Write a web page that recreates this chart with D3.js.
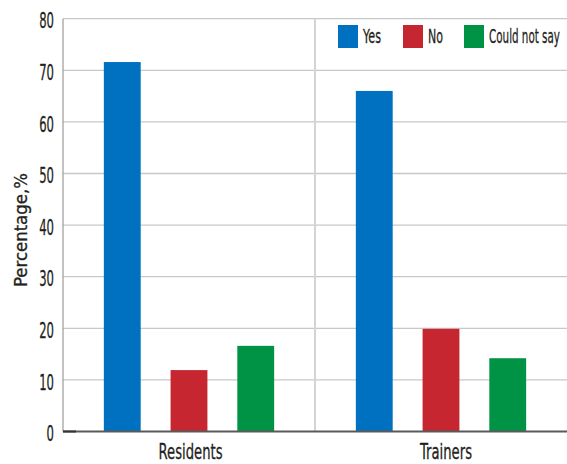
<!DOCTYPE html>
<html>
<head>
<meta charset="utf-8">
<script src="https://cdn.jsdelivr.net/npm/d3@7"></script>
<style>
  html, body { margin: 0; padding: 0; background: #fff; }
  svg { display: block; }
  text { font-family: "DejaVu Sans", "Liberation Sans", sans-serif; fill: #231f20; stroke: #231f20; stroke-width: 0.3px; }
</style>
</head>
<body>
<svg id="chart" width="567" height="464"></svg>
<script>
// Survey answers by group (percent)
const groups = ["Residents", "Trainers"];
const answers = ["Yes", "No", "Could not say"];
const yesValues = [71.6, 66.0];
const noValues = [11.9, 19.9];
const couldNotSayValues = [16.6, 14.2];
const yTicks = [0, 10, 20, 30, 40, 50, 60, 70, 80];
const colors = ["#0070c0", "#c5262f", "#009245"];

// condensed label widths (px) so the wide fallback font fits the narrow layout
const labelWidths = { "Residents": 64, "Trainers": 52, "Yes": 18, "No": 15, "Could not say": 71, "Percentage,%": 114 };
const digitWidth = 7.4;

function condense(sel, widthOf) {
  sel.attr("textLength", widthOf).attr("lengthAdjust", "spacingAndGlyphs");
}

const seriesValues = [yesValues, noValues, couldNotSayValues];
const rows = [];
groups.forEach((g, gi) => {
  answers.forEach((a, ai) => rows.push({ group: g, answer: a, value: seriesValues[ai][gi] }));
});

const svg = d3.select("#chart");
const margin = { left: 63, right: 0, top: 18.7, bottom: 32.5 };
const W = 567, H = 464;
const x0 = d3.scaleBand().domain(groups).range([margin.left, W - margin.right]).paddingInner(0).paddingOuter(0);
const x1 = d3.scaleBand().domain(answers).range([0, x0.bandwidth()]).paddingInner(0.448).paddingOuter(0.612);
const y = d3.scaleLinear().domain([0, 80]).range([H - margin.bottom, margin.top]);

// horizontal gridlines
svg.append("g")
  .selectAll("line")
  .data(yTicks.filter(t => t > 0))
  .join("line")
  .attr("x1", margin.left).attr("x2", W)
  .attr("y1", d => y(d)).attr("y2", d => y(d))
  .attr("stroke", "#c8c8c8").attr("stroke-width", 1.3);

// group divider
svg.append("line")
  .attr("x1", x0("Trainers")).attr("x2", x0("Trainers"))
  .attr("y1", y(80)).attr("y2", y(0))
  .attr("stroke", "#d4d4d4").attr("stroke-width", 2);

// left axis line
svg.append("line")
  .attr("x1", margin.left).attr("x2", margin.left)
  .attr("y1", y(80)).attr("y2", y(0))
  .attr("stroke", "#9a9a9a").attr("stroke-width", 1.2);

// bars
svg.append("g")
  .selectAll("rect")
  .data(rows)
  .join("rect")
  .attr("x", d => x0(d.group) + x1(d.answer))
  .attr("width", x1.bandwidth())
  .attr("y", d => y(d.value))
  .attr("height", d => y(0) - y(d.value))
  .attr("fill", d => colors[answers.indexOf(d.answer)]);

// baseline
svg.append("line")
  .attr("x1", margin.left).attr("x2", W)
  .attr("y1", y(0)).attr("y2", y(0))
  .attr("stroke", "#5a5a5a").attr("stroke-width", 2);
svg.append("line")
  .attr("x1", margin.left).attr("x2", margin.left + 13)
  .attr("y1", y(0)).attr("y2", y(0))
  .attr("stroke", "#333").attr("stroke-width", 2);

// y axis tick labels
const yAxis = d3.axisLeft(y).tickValues(yTicks).tickSize(0).tickPadding(9).tickFormat(d3.format("d"));
const gy = svg.append("g").attr("transform", `translate(${margin.left},0)`).call(yAxis);
gy.select(".domain").remove();
gy.selectAll("text")
  .style("font-size", "20.5px").style("font-family", null)
  .attr("fill", "#231f20").attr("dy", "0.45em")
  .call(condense, d => String(d).length * digitWidth);

// x axis category labels
const xAxis = d3.axisBottom(x0).tickSize(0).tickPadding(13);
const gx = svg.append("g").attr("transform", `translate(0,${y(0)})`).call(xAxis);
gx.select(".domain").remove();
gx.selectAll(".tick").attr("transform", d => `translate(${x0(d) + x0.bandwidth() / 2 + (d === "Trainers" ? 5 : 1.5)},0)`);
gx.selectAll("text")
  .style("font-size", "20.5px").style("font-family", null)
  .attr("fill", "#231f20")
  .call(condense, d => labelWidths[d]);

// y axis title
svg.append("text")
  .attr("transform", `translate(26.5,${(y(0) + y(80)) / 2 + 5}) rotate(-90)`)
  .attr("text-anchor", "middle")
  .style("font-size", "17.5px")
  .text("Percentage,%")
  .call(condense, labelWidths["Percentage,%"]);

// legend
const legendX = [338, 403, 464];
const legend = svg.append("g");
answers.forEach((a, i) => {
  legend.append("rect")
    .attr("x", legendX[i]).attr("y", 25)
    .attr("width", 20).attr("height", 23)
    .attr("fill", colors[i]);
  legend.append("text")
    .attr("x", legendX[i] + 25).attr("y", 43.3)
    .style("font-size", "19px")
    .text(a)
    .call(condense, labelWidths[a]);
});
</script>
</body>
</html>
